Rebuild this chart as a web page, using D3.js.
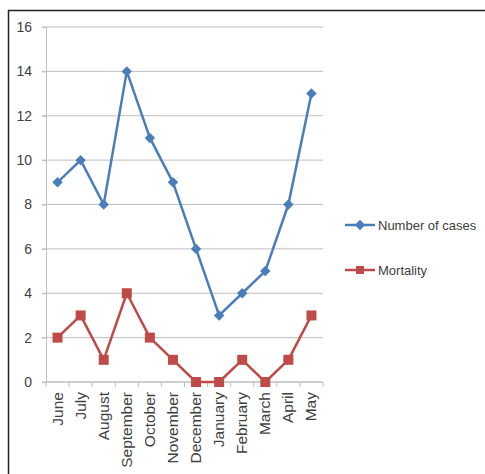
<!DOCTYPE html>
<html>
<head>
<meta charset="utf-8">
<script src="https://cdn.jsdelivr.net/npm/d3@7"></script>
<style>
  body { margin: 0; background: #fff; }
  text { font-family: "Liberation Sans", Arial, sans-serif; fill: #404040; }
</style>
</head>
<body>
<script>
var months = ["June", "July", "August", "September", "October", "November", "December",
              "January", "February", "March", "April", "May"];
var cases = [9, 10, 8, 14, 11, 9, 6, 3, 4, 5, 8, 13];
var mortality = [2, 3, 1, 4, 2, 1, 0, 0, 1, 0, 1, 3];
var yTicks = [0, 2, 4, 6, 8, 10, 12, 14, 16];

var W = 485, H = 474;
var margin = { top: 27, left: 46 }
    , width = 277
    , height = 355;

var svg = d3.select("body").append("svg")
    .attr("width", W)
    .attr("height", H);

// outer frame (only top and left visible in the crop)
svg.append("path")
    .attr("d", "M8.5," + H + "V10.5H" + W)
    .attr("fill", "none")
    .attr("stroke", "#222")
    .attr("stroke-width", 1.5);

var g = svg.append("g")
    .attr("transform", "translate(" + margin.left + "," + margin.top + ")");

var x = d3.scaleBand().domain(months).range([0, width]);
var y = d3.scaleLinear().domain([0, 16]).range([height, 0]);

// gridlines
g.selectAll(".grid").data(yTicks).enter().append("line")
    .attr("x1", -4).attr("x2", width)
    .attr("y1", function (d) { return y(d); })
    .attr("y2", function (d) { return y(d); })
    .attr("stroke", "#bfbfbf")
    .attr("stroke-width", 1);

// y axis
var yAxis = g.append("g")
    .call(d3.axisLeft(y).tickValues(yTicks).tickSize(4).tickPadding(10));
yAxis.select(".domain").attr("stroke", "#bfbfbf");
yAxis.selectAll(".tick line").attr("stroke", "#bfbfbf");
yAxis.selectAll("text").style("font-size", "14px").attr("fill", "#404040");

// x axis: ticks between categories
var xg = g.append("g").attr("transform", "translate(0," + height + ")");
xg.append("line").attr("x1", 0).attr("x2", width).attr("stroke", "#bfbfbf");
xg.selectAll(".xt").data(d3.range(months.length + 1)).enter().append("line")
    .attr("x1", function (i) { return i * x.bandwidth(); })
    .attr("x2", function (i) { return i * x.bandwidth(); })
    .attr("y1", 0).attr("y2", 5)
    .attr("stroke", "#bfbfbf");
xg.selectAll(".xl").data(months).enter().append("text")
    .attr("transform", function (d) {
        return "translate(" + (x(d) + x.bandwidth() / 2 + 5) + ",10) rotate(-90)";
    })
    .attr("text-anchor", "end")
    .style("font-size", "15.5px")
    .text(function (d) { return d; });

var cx = function (d, i) { return x(months[i]) + x.bandwidth() / 2; };

var blue = "#4a7ebb", red = "#be4b48";

var line = d3.line()
    .x(cx)
    .y(function (d) { return y(d); });

g.append("path").datum(cases)
    .attr("d", line).attr("fill", "none")
    .attr("stroke", blue).attr("stroke-width", 2.5).attr("stroke-linejoin", "round");

g.append("path").datum(mortality)
    .attr("d", line).attr("fill", "none")
    .attr("stroke", red).attr("stroke-width", 2.5).attr("stroke-linejoin", "round");

var diamond = d3.symbol().type(d3.symbolDiamond2).size(70);
var square = d3.symbol().type(d3.symbolSquare).size(100);

g.selectAll(".pc").data(cases).enter().append("path")
    .attr("d", diamond)
    .attr("transform", function (d, i) { return "translate(" + cx(d, i) + "," + y(d) + ")"; })
    .attr("fill", blue);

g.selectAll(".pm").data(mortality).enter().append("path")
    .attr("d", square)
    .attr("transform", function (d, i) { return "translate(" + cx(d, i) + "," + y(d) + ")"; })
    .attr("fill", red);

// legend
var legend = [
    { name: "Number of cases", color: blue, sym: diamond, y: 225 },
    { name: "Mortality", color: red, sym: d3.symbol().type(d3.symbolSquare).size(64), y: 270 }
];
var lg = svg.selectAll(".lg").data(legend).enter().append("g")
    .attr("transform", function (d) { return "translate(345," + d.y + ")"; });
lg.append("line").attr("x1", 0).attr("x2", 30)
    .attr("stroke", function (d) { return d.color; }).attr("stroke-width", 2.5);
lg.append("path").attr("d", function (d) { return d.sym(); })
    .attr("transform", "translate(15,0)")
    .attr("fill", function (d) { return d.color; });
lg.append("text").attr("x", 33).attr("dy", "0.35em")
    .style("font-size", "13px")
    .text(function (d) { return d.name; });
</script>
</body>
</html>
